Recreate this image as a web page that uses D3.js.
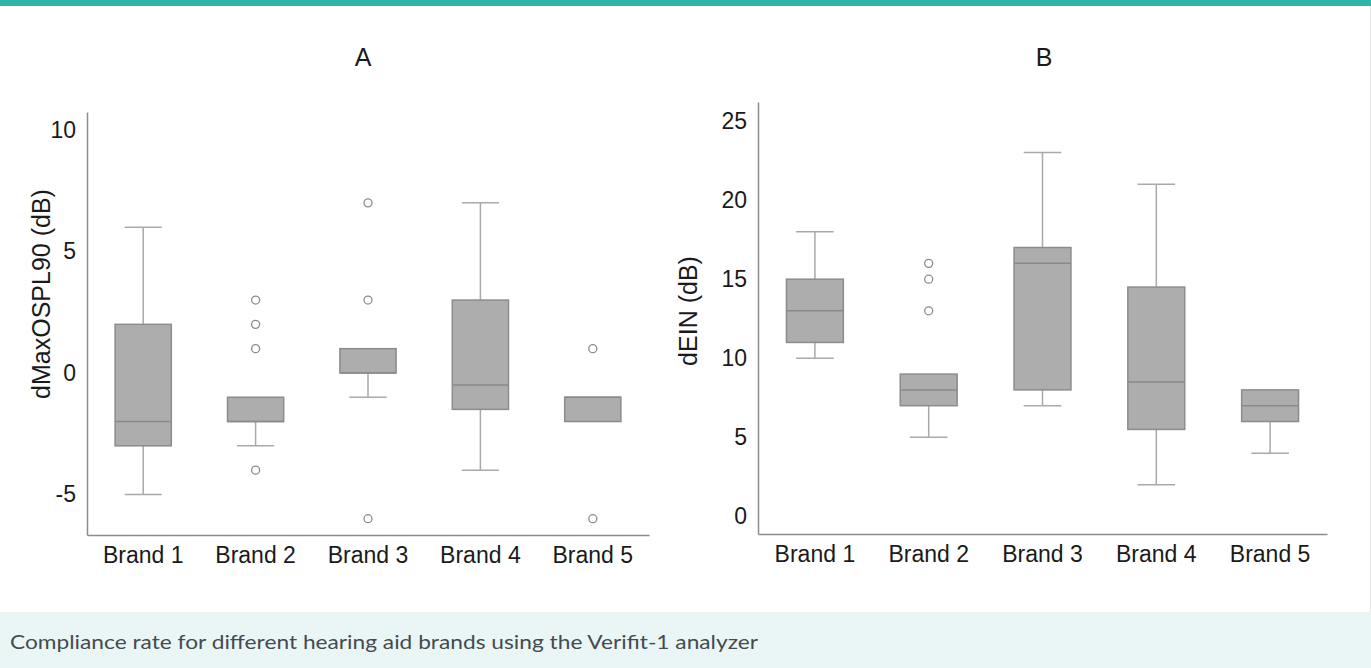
<!DOCTYPE html>
<html>
<head>
<meta charset="utf-8">
<script src="https://cdn.jsdelivr.net/npm/d3@7"></script>
<style>
  html, body { margin: 0; padding: 0; background: #fff; }
  svg { display: block; }
</style>
</head>
<body>
<svg id="chart" width="1371" height="668"></svg>
<script>
// Categories shared by both panels
const brands = ["Brand 1", "Brand 2", "Brand 3", "Brand 4", "Brand 5"];

// Panel A: dMaxOSPL90 (dB) box statistics per brand
const aMin     = [-5, -3, -1, -4, -2];
const aQ1      = [-3, -2,  0, -1.5, -2];
const aMedian  = [-2, -2,  0, -0.5, -1];
const aQ3      = [ 2, -1,  1,  3, -1];
const aMax     = [ 6, -1,  1,  7, -1];
const aOutliers = [[], [3, 2, 1, -4], [7, 3, -6], [], [1, -6]];
const aTicks   = [-5, 0, 5, 10];

// Panel B: dEIN (dB) box statistics per brand
const bMin     = [10, 5,  7,  2,   4];
const bQ1      = [11, 7,  8,  5.5, 6];
const bMedian  = [13, 8, 16,  8.5, 7];
const bQ3      = [15, 9, 17, 14.5, 8];
const bMax     = [18, 9, 23, 21,   8];
const bOutliers = [[], [16, 15, 13], [], [], []];
const bTicks   = [0, 5, 10, 15, 20, 25];

const svg = d3.select("#chart");
const FONT = "'Liberation Sans', Arial, Helvetica, sans-serif";

// Header strip and caption band
svg.append("rect").attr("x", 0).attr("y", 0).attr("width", 1371).attr("height", 6).attr("fill", "#2fb5a8");
svg.append("line").attr("x1", 1370.5).attr("x2", 1370.5).attr("y1", 6).attr("y2", 612)
  .attr("stroke", "#e2e2e2").attr("stroke-width", 1);
svg.append("rect").attr("x", 0).attr("y", 612).attr("width", 1371).attr("height", 56).attr("fill", "#eaf6f6");
svg.append("text")
  .attr("x", 10).attr("y", 649)
  .attr("font-family", "Lato, 'Open Sans', sans-serif")
  .attr("font-size", 19)
  .attr("fill", "#454a4f")
  .attr("textLength", 748)
  .attr("lengthAdjust", "spacingAndGlyphs")
  .text("Compliance rate for different hearing aid brands using the Verifit-1 analyzer");

function rows(mins, q1s, meds, q3s, maxs, outs) {
  return brands.map((b, i) => ({
    brand: b, min: mins[i], q1: q1s[i], median: meds[i], q3: q3s[i], max: maxs[i], outliers: outs[i]
  }));
}

function drawPanel(cfg) {
  const g = svg.append("g");
  const x = d3.scaleBand().domain(brands).range([cfg.left, cfg.right]).padding(0);
  const y = d3.scaleLinear().domain(cfg.domain).range([cfg.bottom, cfg.top]);
  const bw = x.bandwidth();
  const boxW = bw * 0.5;
  const capW = bw * 0.33;

  // Title
  g.append("text")
    .attr("x", cfg.titleX).attr("y", 66)
    .attr("text-anchor", "middle")
    .attr("font-family", FONT).attr("font-size", 25).attr("fill", "#1a1a1a")
    .text(cfg.title);

  // Y axis (line + labels, no tick marks)
  const yAxis = d3.axisLeft(y).tickValues(cfg.ticks).tickSize(0).tickPadding(11).tickFormat(d => String(d));
  const ya = g.append("g").attr("transform", `translate(${cfg.left},0)`).call(yAxis);
  ya.select(".domain").attr("stroke", "#8c8c8c").attr("stroke-width", 1.5);
  ya.selectAll("text").attr("font-family", FONT).attr("font-size", 23).attr("fill", "#1a1a1a");

  // X axis
  const xAxis = d3.axisBottom(x).tickSize(0).tickPadding(12);
  const xa = g.append("g").attr("transform", `translate(0,${cfg.bottom})`).call(xAxis);
  xa.select(".domain").attr("stroke", "#8c8c8c").attr("stroke-width", 1.5);
  xa.selectAll("text").attr("font-family", FONT).attr("font-size", 23).attr("fill", "#1a1a1a");

  // Y axis title
  g.append("text")
    .attr("transform", `translate(${cfg.ytitleX},${cfg.ytitleY}) rotate(-90)`)
    .attr("text-anchor", "middle")
    .attr("font-family", FONT).attr("font-size", 25).attr("fill", "#1a1a1a")
    .text(cfg.ytitle);

  const data = cfg.data;
  const cx = d => x(d.brand) + bw / 2;

  // Whiskers
  const wk = g.append("g").attr("stroke", "#a9a9a9").attr("stroke-width", 1.5);
  data.forEach(d => {
    if (d.max > d.q3) {
      wk.append("line").attr("x1", cx(d)).attr("x2", cx(d)).attr("y1", y(d.q3)).attr("y2", y(d.max));
      wk.append("line").attr("x1", cx(d) - capW / 2).attr("x2", cx(d) + capW / 2).attr("y1", y(d.max)).attr("y2", y(d.max));
    }
    if (d.min < d.q1) {
      wk.append("line").attr("x1", cx(d)).attr("x2", cx(d)).attr("y1", y(d.q1)).attr("y2", y(d.min));
      wk.append("line").attr("x1", cx(d) - capW / 2).attr("x2", cx(d) + capW / 2).attr("y1", y(d.min)).attr("y2", y(d.min));
    }
  });

  // Boxes
  g.selectAll(".box").data(data).enter().append("rect")
    .attr("x", d => cx(d) - boxW / 2)
    .attr("y", d => y(d.q3))
    .attr("width", boxW)
    .attr("height", d => y(d.q1) - y(d.q3))
    .attr("fill", "#adadad")
    .attr("stroke", "#8c8c8c")
    .attr("stroke-width", 1.5);

  // Medians
  g.selectAll(".med").data(data).enter().append("line")
    .attr("x1", d => cx(d) - boxW / 2).attr("x2", d => cx(d) + boxW / 2)
    .attr("y1", d => y(d.median)).attr("y2", d => y(d.median))
    .attr("stroke", "#8a8a8a").attr("stroke-width", 1.5);

  // Outliers
  data.forEach(d => {
    g.selectAll(null).data(d.outliers).enter().append("circle")
      .attr("cx", cx(d)).attr("cy", v => y(v)).attr("r", 4)
      .attr("fill", "#fff").attr("stroke", "#8c8c8c").attr("stroke-width", 1.3);
  });
}

drawPanel({
  title: "A", titleX: 363,
  ytitle: "dMaxOSPL90 (dB)", ytitleX: 50, ytitleY: 294,
  left: 87, right: 649, top: 112, bottom: 535,
  domain: [-6.67, 10.74], ticks: aTicks,
  data: rows(aMin, aQ1, aMedian, aQ3, aMax, aOutliers)
});

drawPanel({
  title: "B", titleX: 1044,
  ytitle: "dEIN (dB)", ytitleX: 697, ytitleY: 311,
  left: 758, right: 1327, top: 102, bottom: 534,
  domain: [-1.11, 26.2], ticks: bTicks,
  data: rows(bMin, bQ1, bMedian, bQ3, bMax, bOutliers)
});
</script>
</body>
</html>
